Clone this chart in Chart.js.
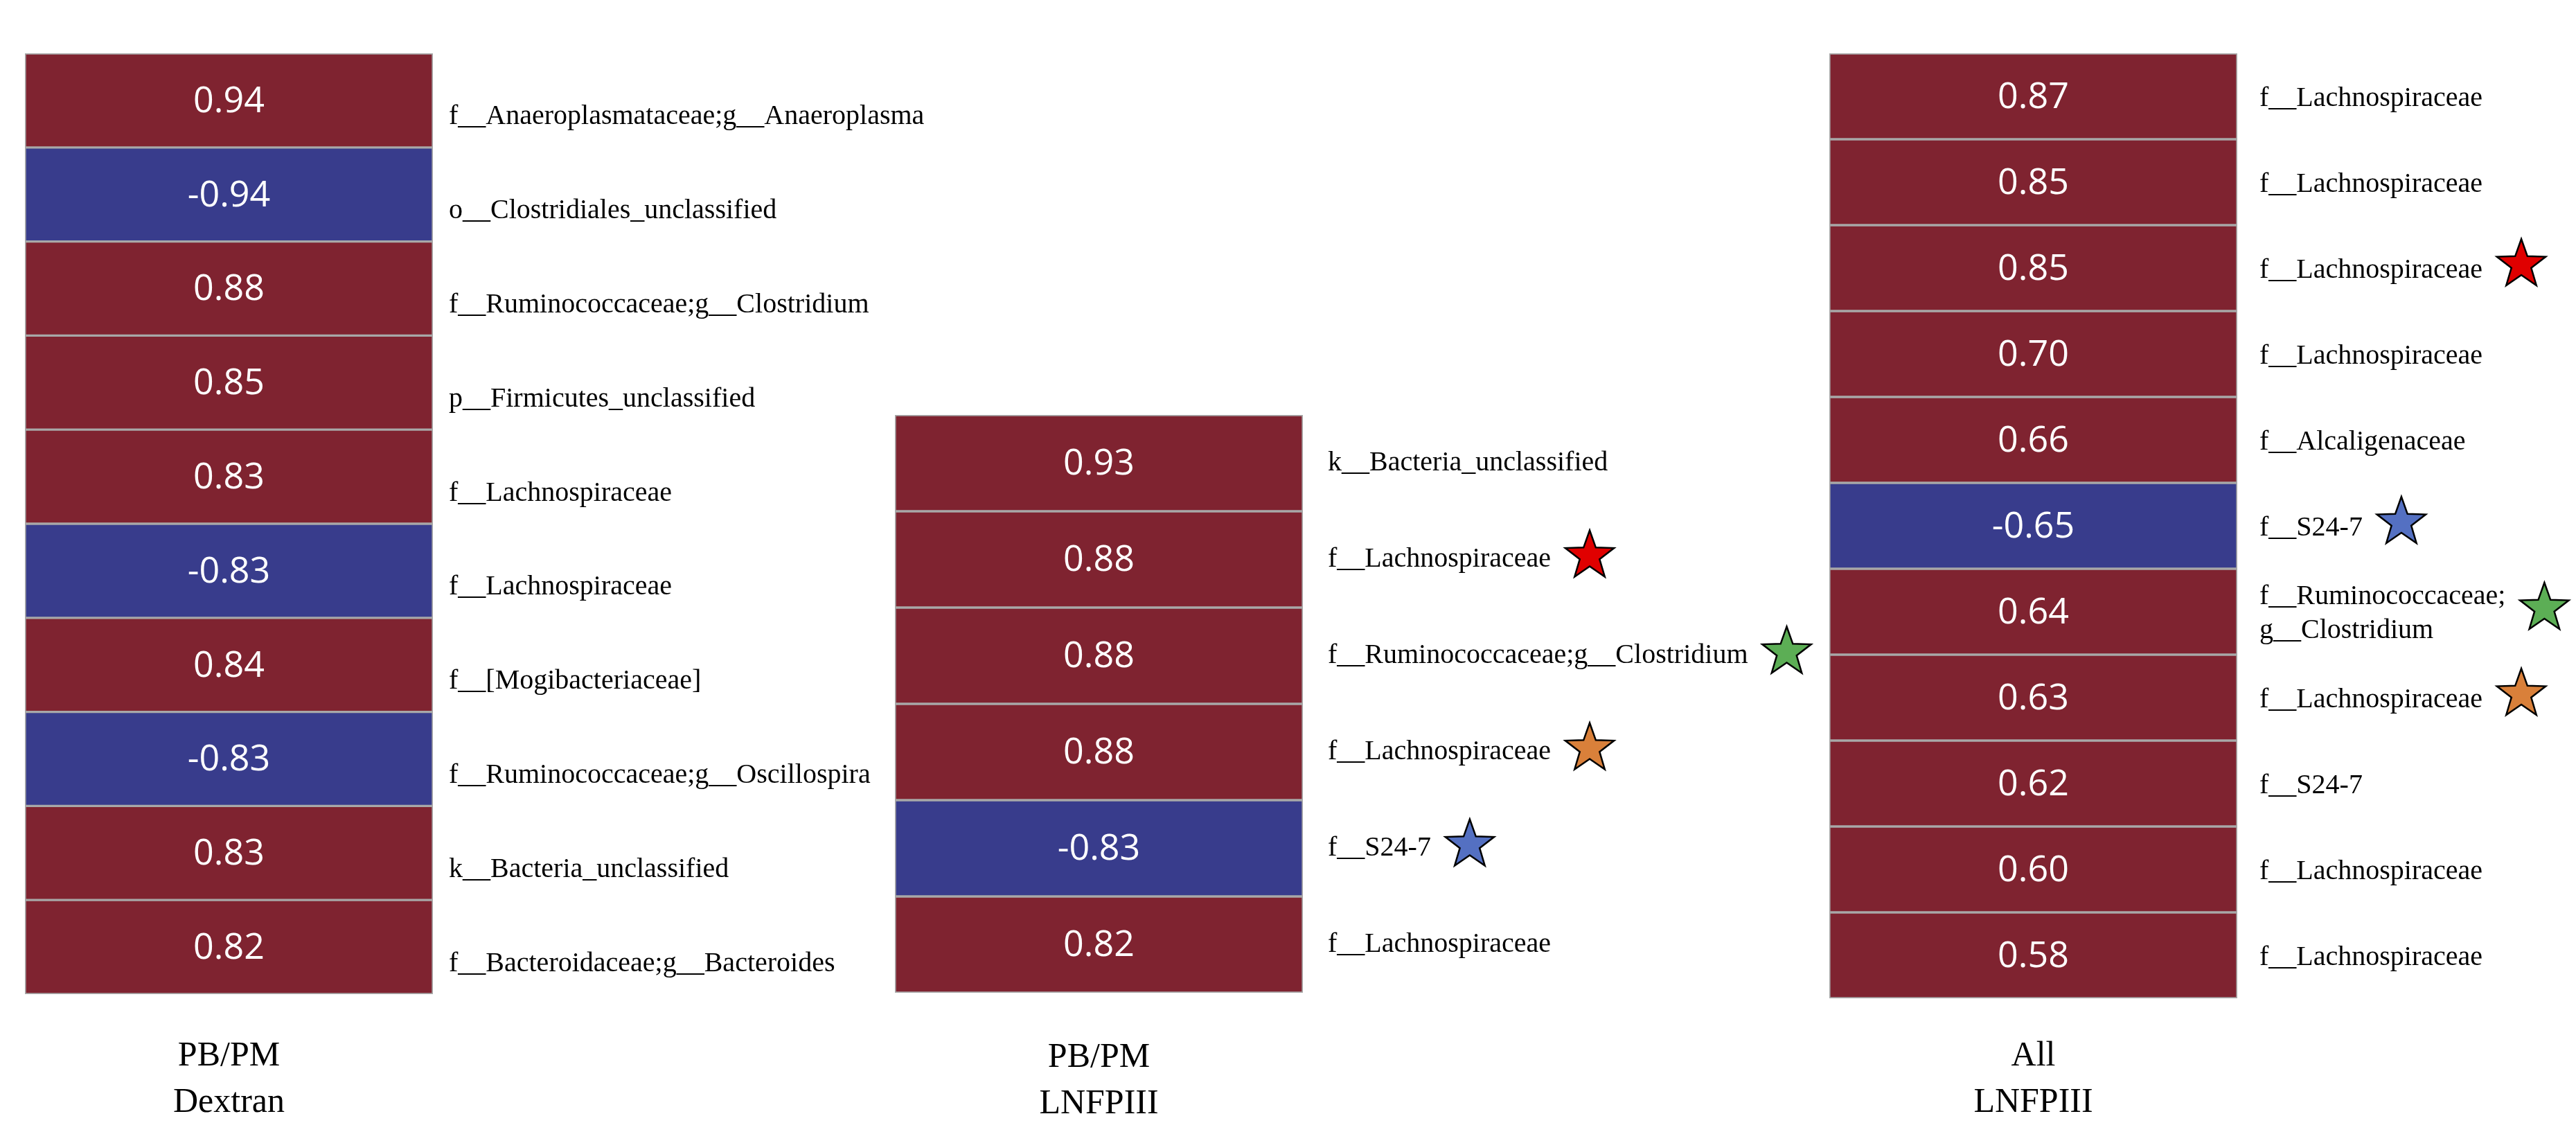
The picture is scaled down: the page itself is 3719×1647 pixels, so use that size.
<!DOCTYPE html>
<html>
<head>
<meta charset="utf-8">
<script src="https://cdn.jsdelivr.net/npm/chart.js@4.4.1/dist/chart.umd.min.js"></script>
<style>
  html, body { margin: 0; padding: 0; background: #fff; width: 3719px; height: 1647px; overflow: hidden; }
  .panel { position: absolute; }
</style>
</head>
<body>
<div class="panel" style="left:36px;top:77px;width:1350px;height:1570px"><canvas id="c1"></canvas></div>
<div class="panel" style="left:1292px;top:599px;width:1338px;height:1048px"><canvas id="c2"></canvas></div>
<div class="panel" style="left:2641px;top:77px;width:1078px;height:1570px"><canvas id="c3"></canvas></div>
<script>
// PB/PM Dextran
const dextranTaxa = [
  'f__Anaeroplasmataceae;g__Anaeroplasma',
  'o__Clostridiales_unclassified',
  'f__Ruminococcaceae;g__Clostridium',
  'p__Firmicutes_unclassified',
  'f__Lachnospiraceae',
  'f__Lachnospiraceae',
  'f__[Mogibacteriaceae]',
  'f__Ruminococcaceae;g__Oscillospira',
  'k__Bacteria_unclassified',
  'f__Bacteroidaceae;g__Bacteroides'
];
const dextranR = [0.94, -0.94, 0.88, 0.85, 0.83, -0.83, 0.84, -0.83, 0.83, 0.82];
const dextranStars = [0, 0, 0, 0, 0, 0, 0, 0, 0, 0];

// PB/PM LNFPIII
const pbLnfpTaxa = [
  'k__Bacteria_unclassified',
  'f__Lachnospiraceae',
  'f__Ruminococcaceae;g__Clostridium',
  'f__Lachnospiraceae',
  'f__S24-7',
  'f__Lachnospiraceae'
];
const pbLnfpR = [0.93, 0.88, 0.88, 0.88, -0.83, 0.82];
const pbLnfpStars = [0, 1, 2, 3, 4, 0];

// All LNFPIII
const allLnfpTaxa = [
  'f__Lachnospiraceae',
  'f__Lachnospiraceae',
  'f__Lachnospiraceae',
  'f__Lachnospiraceae',
  'f__Alcaligenaceae',
  'f__S24-7',
  ['f__Ruminococcaceae;', 'g__Clostridium'],
  'f__Lachnospiraceae',
  'f__S24-7',
  'f__Lachnospiraceae',
  'f__Lachnospiraceae'
];
const allLnfpR = [0.87, 0.85, 0.85, 0.70, 0.66, -0.65, 0.64, 0.63, 0.62, 0.60, 0.58];
const allLnfpStars = [0, 0, 1, 0, 0, 4, 2, 3, 0, 0, 0];

const groupTitles = [['PB/PM', 'Dextran'], ['PB/PM', 'LNFPIII'], ['All', 'LNFPIII']];

const POS = '#7F2330';
const NEG = '#383C8C';
const EDGE = '#A8A8A8';
const SERIF = '"Liberation Serif", "Times New Roman", serif';
const STAR_COLORS = [null, '#E00000', '#5CAE55', '#D9803A', '#5470C2'];

function drawStar(ctx, cx, cy, R, r, fill) {
  ctx.beginPath();
  for (let k = 0; k < 10; k++) {
    const rad = k % 2 ? r : R;
    const a = -Math.PI / 2 + k * Math.PI / 5;
    const px = cx + rad * Math.cos(a), py = cy + rad * Math.sin(a);
    if (k === 0) ctx.moveTo(px, py); else ctx.lineTo(px, py);
  }
  ctx.closePath();
  ctx.fillStyle = fill;
  ctx.fill();
  ctx.lineWidth = 2.5;
  ctx.strokeStyle = '#000';
  ctx.stroke();
}

function makeChart(id, taxa, values, stars, title, o) {
  const cellText = {
    id: 'cellText',
    afterDatasetsDraw(chart) {
      const ctx = chart.ctx;
      const meta = chart.getDatasetMeta(0);
      ctx.save();
      ctx.font = '52px "Open Sans", "Noto Sans", sans-serif';
      ctx.fillStyle = '#fff';
      ctx.textAlign = 'center';
      ctx.textBaseline = 'middle';
      meta.data.forEach((bar, i) => {
        ctx.fillText(values[i].toFixed(2), (bar.x + bar.base) / 2, bar.y + 2);
      });
      ctx.restore();
    }
  };
  const starMarks = {
    id: 'starMarks',
    afterDraw(chart) {
      const ctx = chart.ctx;
      const yS = chart.scales.y;
      ctx.save();
      ctx.font = '40px ' + SERIF;
      stars.forEach((g, i) => {
        if (!g) return;
        const lines = Array.isArray(taxa[i]) ? taxa[i] : [taxa[i]];
        const w = Math.max(...lines.map(t => ctx.measureText(t).width));
        const x = yS.left + o.pad + w + 56;
        const y = yS.getPixelForTick(i) - 5;
        drawStar(ctx, x, y, 37, 15, STAR_COLORS[g]);
      });
      ctx.restore();
    }
  };
  return new Chart(document.getElementById(id), {
    type: 'bar',
    data: {
      labels: taxa,
      datasets: [{
        data: values.map(() => [0, 1]),
        backgroundColor: values.map(v => v < 0 ? NEG : POS),
        borderColor: EDGE,
        borderWidth: 2,
        borderSkipped: false,
        categoryPercentage: 1,
        barPercentage: 1
      }]
    },
    options: {
      indexAxis: 'y',
      responsive: true,
      maintainAspectRatio: false,
      animation: false,
      devicePixelRatio: 1,
      color: '#000',
      layout: { padding: 0 },
      plugins: { legend: { display: false }, tooltip: { enabled: false } },
      scales: {
        x: {
          min: 0, max: 1,
          grid: { display: false, drawTicks: false },
          border: { display: false },
          ticks: { display: false },
          title: {
            display: true, text: title, color: '#000',
            font: { family: SERIF, size: 50, lineHeight: '67px' },
            padding: { top: 0, bottom: o.titlePad }
          },
          afterFit: s => {
            s.height = o.bottomH;
            s.paddingLeft = 0; s.paddingRight = 0;
          }
        },
        y: {
          position: 'right',
          grid: { display: false, drawTicks: false },
          border: { display: false },
          ticks: {
            color: '#000', padding: o.pad, autoSkip: false, labelOffset: o.labelOffset,
            font: { family: SERIF, size: 40, lineHeight: 1.22 }
          },
          afterFit: s => {
            s.width = o.axisW;
            s.paddingTop = 0; s.paddingBottom = 0;
          }
        }
      }
    },
    plugins: [cellText, starMarks]
  });
}

makeChart('c1', dextranTaxa, dextranR, dextranStars, groupTitles[0],
  { bottomH: 212, titlePad: 22, axisW: 761, labelOffset: 24, pad: 23 });
makeChart('c2', pbLnfpTaxa, pbLnfpR, pbLnfpStars, groupTitles[1],
  { bottomH: 214, titlePad: 20, axisW: 749, labelOffset: 0, pad: 36 });
makeChart('c3', allLnfpTaxa, allLnfpR, allLnfpStars, groupTitles[2],
  { bottomH: 206, titlePad: 22, axisW: 489, labelOffset: 3, pad: 32 });
</script>
</body>
</html>
